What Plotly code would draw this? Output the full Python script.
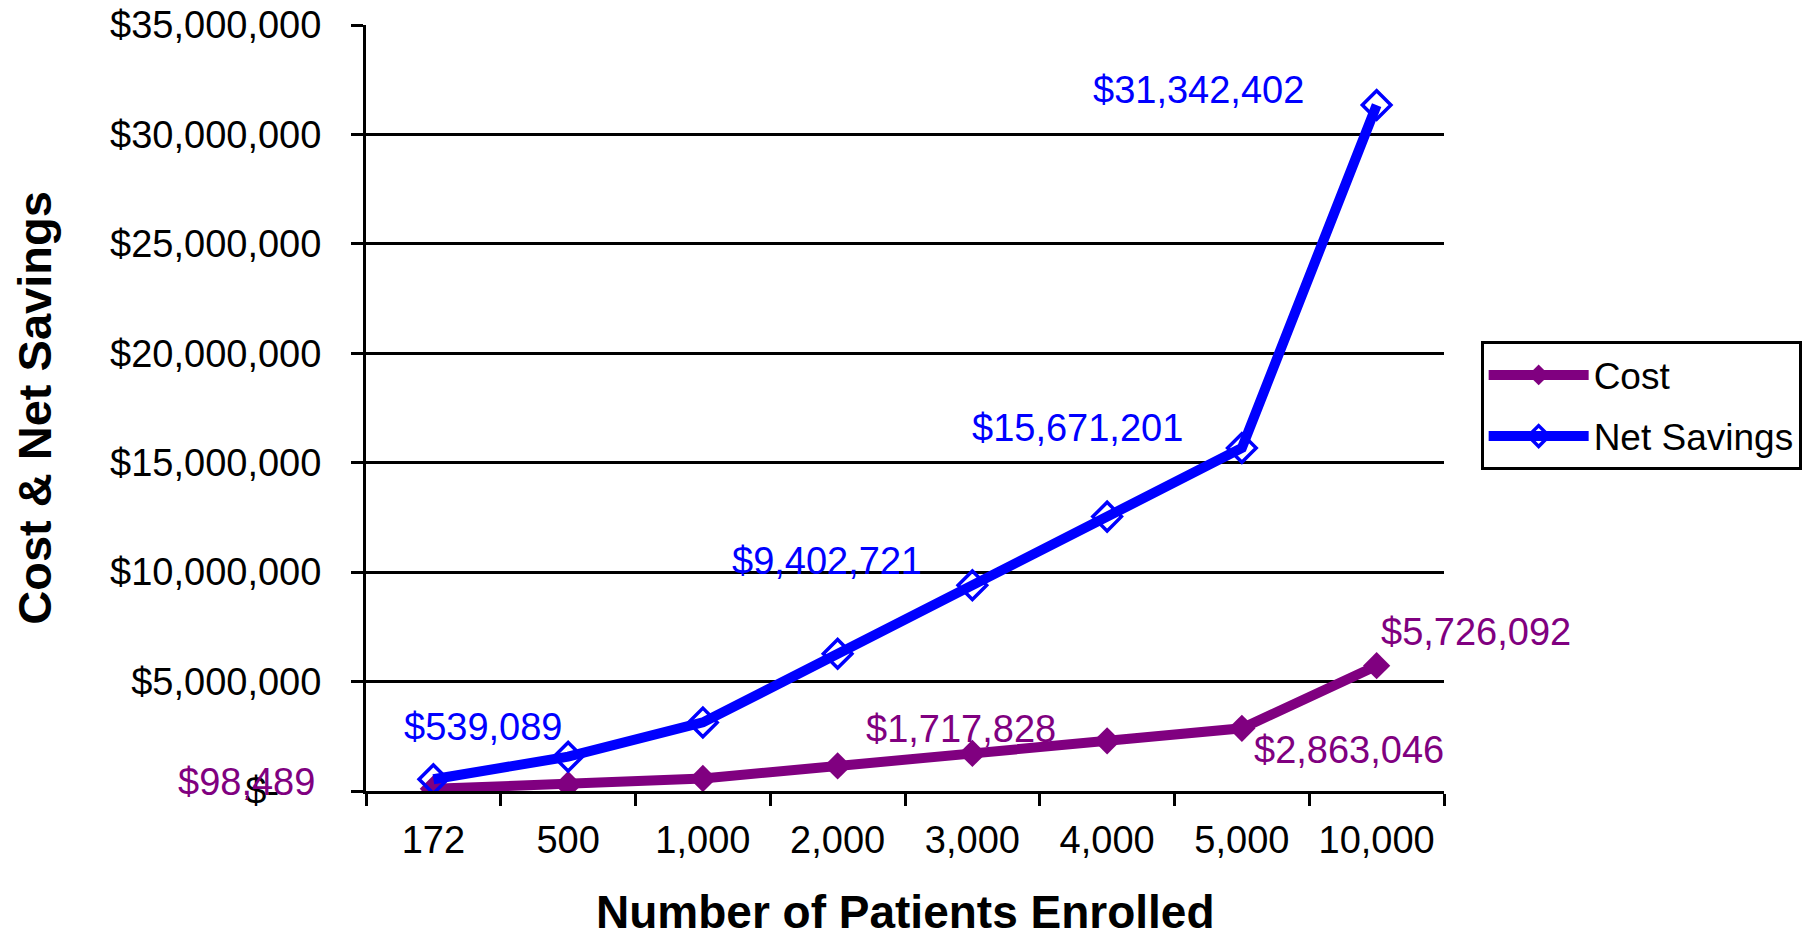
import plotly.graph_objects as go

categories = ["172", "500", "1,000", "2,000", "3,000", "4,000", "5,000", "10,000"]
cost = [98489, 286305, 572609, 1145218, 1717828, 2290437, 2863046, 5726092]
net_savings = [539089, 1567120, 3134240, 6268480, 9402721, 12536961, 15671201, 31342402]

y_tick_vals = [0, 5000000, 10000000, 15000000, 20000000, 25000000, 30000000, 35000000]
y_tick_text = ["$-\u00a0\u00a0\u00a0\u00a0", "$5,000,000", "$10,000,000", "$15,000,000",
               "$20,000,000", "$25,000,000", "$30,000,000", "$35,000,000"]

# labelled points: (category index, text)
cost_labels = [(0, "$98,489"), (4, "$1,717,828"), (6, "$2,863,046"), (7, "$5,726,092")]
net_labels = [(0, "$539,089"), (4, "$9,402,721"), (6, "$15,671,201"), (7, "$31,342,402")]

x_title = "Number of Patients Enrolled"
y_title = "Cost & Net Savings"

PURPLE = "#800080"
BLUE = "#0000FF"
FONT = "Liberation Sans, Arial, sans-serif"

fig = go.Figure()
fig.add_trace(go.Scatter(
    x=categories, y=cost, name="Cost", mode="lines+markers", legendgroup="a",
    line=dict(color=PURPLE, width=10),
    marker=dict(symbol="diamond", size=21, color=PURPLE),
))
fig.add_trace(go.Scatter(
    x=categories, y=net_savings, name="Net Savings", mode="lines+markers", legendgroup="b",
    line=dict(color=BLUE, width=10),
    marker=dict(symbol="diamond-open", size=22, color=BLUE, line=dict(width=3.5, color=BLUE)),
))

cost_shifts = {0: (-187, 7), 4: (-11, 24), 6: (107, -22), 7: (99, 34)}
net_shifts = {0: (50, 52), 4: (-145, 24), 6: (-164, 20), 7: (-178, 15)}

annotations = []
for i, t in cost_labels:
    xs, ys = cost_shifts[i]
    annotations.append(dict(x=i, y=cost[i], xref="x", yref="y", text=t,
                            showarrow=False, xshift=xs, yshift=ys,
                            font=dict(family=FONT, size=38, color=PURPLE)))
for i, t in net_labels:
    xs, ys = net_shifts[i]
    annotations.append(dict(x=i, y=net_savings[i], xref="x", yref="y", text=t,
                            showarrow=False, xshift=xs, yshift=ys,
                            font=dict(family=FONT, size=38, color=BLUE)))
# x-axis title placed as an annotation (the axis title is constrained by the margin)
annotations.append(dict(x=0.5, y=-0.158, xref="paper", yref="paper", text="<b>" + x_title + "</b>",
                        showarrow=False, xanchor="center", yanchor="middle",
                        font=dict(family=FONT, size=46, color="black")))

fig.update_layout(
    width=1814, height=930,
    margin=dict(l=366, r=370, t=25, b=139, autoexpand=False),
    paper_bgcolor="white", plot_bgcolor="white",
    font=dict(family=FONT, size=37, color="black"),
    showlegend=True,
    legend=dict(x=1.034, y=0.587, xanchor="left", yanchor="top",
                bgcolor="white", bordercolor="black", borderwidth=3,
                font=dict(family=FONT, size=37, color="black"),
                itemwidth=100, tracegroupgap=10),
    annotations=annotations,
    xaxis=dict(
        type="category", range=[-0.5, 7.5], automargin=False,
        showgrid=False, zeroline=False,
        showline=True, linecolor="black", linewidth=3,
        ticks="outside", tickson="boundaries", ticklen=12, tickwidth=3, tickcolor="black",
        ticklabelstandoff=13,
        tickfont=dict(family=FONT, size=38, color="black"),
    ),
    yaxis=dict(
        range=[0, 35000000], automargin=False,
        tickmode="array", tickvals=y_tick_vals, ticktext=y_tick_text,
        showgrid=True, gridcolor="black", gridwidth=2.5,
        zeroline=False,
        showline=True, linecolor="black", linewidth=3,
        ticks="outside", ticklen=12, tickwidth=3, tickcolor="black",
        ticklabelstandoff=22,
        tickfont=dict(family=FONT, size=38, color="black"),
        title=dict(text="<b>" + y_title + "</b>", standoff=44,
                   font=dict(family=FONT, size=47, color="black")),
    ),
)

fig.write_html("out.html", config={"displayModeBar": False},
               post_script="document.body.style.margin='0';document.body.style.overflow='hidden';")
